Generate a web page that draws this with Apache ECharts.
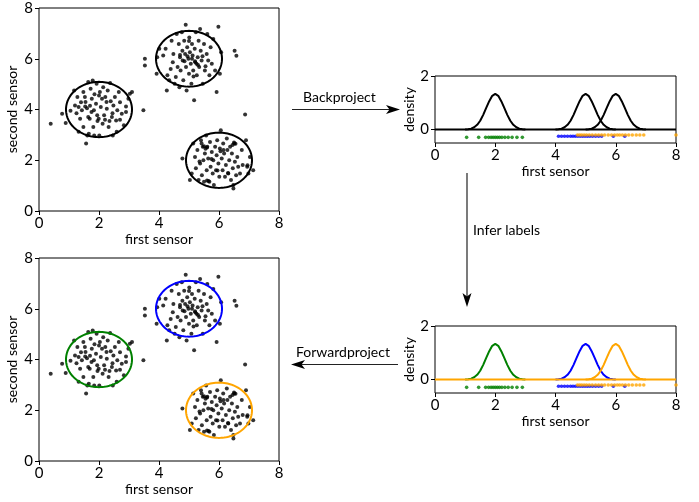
<!DOCTYPE html>
<html>
<head>
<meta charset="utf-8">
<script src="https://cdn.jsdelivr.net/npm/echarts@6/dist/echarts.min.js"></script>
<style>
html,body{margin:0;padding:0;background:#fff;}
#chart{width:699px;height:502px;}
</style>
</head>
<body>
<div id="chart"></div>
<script>
// ---------- data ----------
const xTickValues = [0, 2, 4, 6, 8];
const scatterTickValues = [0, 2, 4, 6, 8];
const densityTickValues = [0, 2];

const clusterA = [[0.39,3.44],[0.77,3.83],[0.89,3.47],[1.17,4.75],[1.2,4.16],[1.28,4.49],[1.32,4.1],[1.37,3.64],[1.4,4.29],[1.43,3.97],[1.48,4.69],[1.53,4.49],[1.54,4.12],[1.57,2.66],[1.61,2.98],[1.64,3.7],[1.66,3.04],[1.69,3.64],[1.72,4.82],[1.76,4.42],[1.79,5.14],[1.83,3.97],[1.84,2.98],[1.9,4.23],[1.92,5.01],[1.94,3.77],[1.99,3.64],[2.01,2.98],[2.03,4.69],[2.06,4.1],[2.1,4.42],[2.12,3.44],[2.17,3.77],[2.21,4.49],[2.26,4.03],[2.29,4.75],[2.32,3.31],[2.37,5.04],[2.39,4.33],[2.43,3.7],[2.46,2.98],[2.48,4.16],[2.53,4.49],[2.57,3.57],[2.61,3.97],[2.66,4.69],[2.7,4.29],[2.76,3.83],[2.83,3.38],[2.9,4.12],[2.98,4.42],[3.03,4.62],[3.1,4.69],[3.48,3.97],[1.64,5.08],[1.81,3.31],[2.14,4.88],[1.48,3.31],[1.32,3.12],[2.59,3.12],[1.25,3.85],[1.6,4.05],[1.7,4.15],[1.75,3.9],[2.2,3.6],[2.35,3.55],[1.95,3.55],[1.55,4.3],[2.45,3.85],[1.85,4.6],[2.0,4.55],[2.25,4.3],[1.05,3.95],[2.7,3.6],[2.9,3.9]];

const clusterB = [[3.53,6.0],[3.53,5.73],[3.92,5.41],[3.94,6.06],[4.01,6.39],[4.14,6.13],[4.22,6.39],[4.26,4.75],[4.28,5.35],[4.34,5.15],[4.39,5.6],[4.42,6.71],[4.46,5.86],[4.48,6.19],[4.52,5.01],[4.56,5.28],[4.59,6.98],[4.62,5.67],[4.66,6.58],[4.68,4.88],[4.7,6.06],[4.72,5.54],[4.76,7.04],[4.78,6.32],[4.79,5.93],[4.81,5.15],[4.84,6.71],[4.87,6.19],[4.89,7.34],[4.9,5.67],[4.92,4.75],[4.94,6.45],[4.98,6.0],[5.0,5.41],[5.01,6.84],[5.03,6.26],[5.06,5.8],[5.08,5.01],[5.1,6.58],[5.12,6.13],[5.14,5.54],[5.17,4.36],[5.19,6.39],[5.21,5.86],[5.23,7.04],[5.26,5.35],[5.29,6.06],[5.32,6.71],[5.34,5.67],[5.37,7.17],[5.39,6.32],[5.42,5.93],[5.46,5.01],[5.5,6.58],[5.53,5.54],[5.59,6.19],[5.61,6.98],[5.64,5.93],[5.68,5.35],[5.72,6.45],[5.76,5.8],[5.81,6.78],[5.87,5.54],[5.92,4.69],[5.98,7.26],[6.03,5.41],[6.07,6.26],[6.52,6.32],[6.58,6.12],[5.2,5.9],[5.25,5.8],[5.3,5.75],[4.95,6.1],[5.1,6.0],[4.7,6.15],[5.45,6.1],[5.55,5.7],[4.85,5.9],[5.15,5.3],[5.0,6.7]];

const clusterC = [[4.78,2.07],[5.03,1.22],[5.09,1.48],[5.14,2.66],[5.2,2.13],[5.23,1.68],[5.28,2.4],[5.32,1.22],[5.37,1.87],[5.4,2.79],[5.43,1.41],[5.46,2.53],[5.48,2.0],[5.5,1.15],[5.53,2.27],[5.57,2.98],[5.59,1.61],[5.61,2.53],[5.64,2.07],[5.68,1.15],[5.7,2.72],[5.72,1.74],[5.76,2.33],[5.79,1.48],[5.81,2.0],[5.83,1.02],[5.87,2.53],[5.9,1.61],[5.92,2.2],[5.94,2.79],[5.98,1.87],[6.01,1.35],[6.03,2.46],[6.06,3.18],[6.09,2.07],[6.12,1.61],[6.14,2.66],[6.17,2.27],[6.2,1.35],[6.23,1.81],[6.26,2.86],[6.28,2.4],[6.31,1.48],[6.34,2.0],[6.37,2.53],[6.4,1.22],[6.43,2.27],[6.46,1.68],[6.48,1.02],[6.51,2.66],[6.53,1.94],[6.57,1.41],[6.61,2.13],[6.64,1.74],[6.7,1.48],[6.76,2.4],[6.79,1.81],[6.87,3.8],[6.9,2.79],[6.94,1.74],[6.98,1.48],[7.03,2.13],[7.14,1.61],[6.48,0.89],[5.42,2.66],[5.55,2.45],[5.6,2.5],[5.5,2.55],[5.75,2.05],[6.05,2.35],[6.15,2.4],[6.45,2.6],[6.5,2.7],[6.55,2.65],[5.35,1.95],[5.95,1.6],[6.3,1.5],[5.65,1.18],[5.6,1.2],[6.95,1.8]];

const ellipseCenters = [[2, 4], [5, 6], [6, 2]];
const ellipseRadii = [[1.1, 1.09], [1.1, 1.1], [1.1, 1.09]];

// density profile (offset from each peak, height)
const densityOffsets = [-1.0,-0.9,-0.8,-0.7,-0.6,-0.5,-0.4,-0.3,-0.2,-0.1,0,0.1,0.2,0.3,0.4,0.5,0.6,0.7,0.8,0.9,1.0];
const densityHeights = [0.005,0.015,0.037,0.088,0.18,0.33,0.55,0.81,1.06,1.26,1.33,1.26,1.06,0.81,0.55,0.33,0.18,0.088,0.037,0.015,0.005];
const densityCenters = [2, 5, 6];
const baselineX = [0, 8];

const rugGreenX = [1.05,1.45,1.68,1.78,1.86,1.93,2.0,2.07,2.14,2.22,2.32,2.43,2.56,2.72,2.9];
const rugBlueX = [4.1,4.2,4.3,4.4,4.5,4.58,4.66,4.74,4.82,4.9,4.98,5.06,5.14,5.23,5.33,5.43,5.53,5.92,6.3];
const rugOrangeX = [4.73,4.8,4.87,4.95,5.03,5.12,5.22,5.33,5.43,5.53,5.63,5.75,5.86,5.96,6.05,6.13,6.22,6.32,6.43,6.55,6.68,6.8,6.93,8.0];
const rugLevels = [-0.29, -0.25, -0.2];

const clusterColors = ['#008000', '#0000ff', '#ffa500'];

// ---------- helpers ----------
const FONT = 'Lato';
function curveData(center) {
  return densityOffsets.map((o, i) => [center + o, densityHeights[i]]);
}
function rugData(xs, level) { return xs.map(x => [x, level]); }

function xAxis(gridIndex) {
  return {
    type: 'value', gridIndex, min: 0, max: 8, interval: 2,
    name: 'first sensor', nameLocation: 'middle', nameGap: 21,
    nameTextStyle: { fontFamily: FONT, fontSize: 14, color: '#000' },
    axisLine: { show: false, onZero: false },
    axisTick: { show: true, inside: false, length: 4, lineStyle: { color: '#000', width: 1 } },
    axisLabel: { fontFamily: FONT, fontSize: 15, color: '#000', margin: 5 },
    splitLine: { show: false }
  };
}
function scatterY(gridIndex) {
  return {
    type: 'value', gridIndex, min: 0, max: 8, interval: 2,
    name: 'second sensor', nameLocation: 'middle', nameGap: 20,
    nameTextStyle: { fontFamily: FONT, fontSize: 14, color: '#000' },
    axisLine: { show: false, onZero: false },
    axisTick: { show: true, length: 4, lineStyle: { color: '#000', width: 1 } },
    axisLabel: { fontFamily: FONT, fontSize: 15, color: '#000', margin: 6 },
    splitLine: { show: false }
  };
}
function densityY(gridIndex) {
  return {
    type: 'value', gridIndex, min: -0.5, max: 2,
    name: 'density', nameLocation: 'middle', nameGap: 15,
    nameTextStyle: { fontFamily: FONT, fontSize: 14, color: '#000' },
    axisLine: { show: false, onZero: false },
    axisTick: { show: true, length: 4, customValues: densityTickValues, lineStyle: { color: '#000', width: 1 } },
    axisLabel: { fontFamily: FONT, fontSize: 15, color: '#000', margin: 6, customValues: densityTickValues },
    splitLine: { show: false }
  };
}

function ellipseSeries(xi, yi, colors) {
  return {
    type: 'custom', xAxisIndex: xi, yAxisIndex: yi, silent: true, z: 3,
    data: ellipseCenters.map((c, i) => [c[0], c[1], i]),
    renderItem: function (params, api) {
      const idx = api.value(2);
      const c = ellipseCenters[idx], r = ellipseRadii[idx];
      const pts = [];
      for (let k = 0; k <= 120; k++) {
        const t = k / 120 * Math.PI * 2;
        pts.push(api.coord([c[0] + r[0] * Math.cos(t), c[1] + r[1] * Math.sin(t)]));
      }
      return {
        type: 'polyline',
        shape: { points: pts },
        style: { fill: null, stroke: colors[idx], lineWidth: 2 }
      };
    }
  };
}

function pointSeries(xi, yi) {
  return {
    type: 'scatter', xAxisIndex: xi, yAxisIndex: yi, z: 2,
    symbol: 'circle', symbolSize: 4,
    itemStyle: { color: '#000' },
    data: clusterA.concat(clusterB, clusterC)
  };
}

function lineSeries(xi, yi, data, color, z) {
  return {
    type: 'line', xAxisIndex: xi, yAxisIndex: yi, showSymbol: false, symbol: 'none',
    lineStyle: { color, width: 2 }, data, z: z || 3
  };
}
function baselineData() { return baselineX.map(x => [x, 0]); }
function rugSeries(xi, yi, xs, level, color) {
  return {
    type: 'scatter', xAxisIndex: xi, yAxisIndex: yi, symbol: 'circle', symbolSize: 3.6,
    itemStyle: { color }, data: rugData(xs, level), z: 2
  };
}

const gridStyle = { show: true, borderColor: '#000', borderWidth: 1, backgroundColor: 'transparent', containLabel: false };

const option = {
  animation: false,
  backgroundColor: '#fff',
  grid: [
    Object.assign({ left: 39, top: 8, width: 240, height: 203 }, gridStyle),
    Object.assign({ left: 39, top: 258, width: 240, height: 203 }, gridStyle),
    Object.assign({ left: 435, top: 76, width: 241, height: 67 }, gridStyle),
    Object.assign({ left: 435, top: 326, width: 241, height: 67 }, gridStyle)
  ],
  xAxis: [xAxis(0), xAxis(1), xAxis(2), xAxis(3)],
  yAxis: [scatterY(0), scatterY(1), densityY(2), densityY(3)],
  series: [
    pointSeries(0, 0),
    ellipseSeries(0, 0, ['#000', '#000', '#000']),
    pointSeries(1, 1),
    ellipseSeries(1, 1, clusterColors),

    rugSeries(2, 2, rugGreenX, rugLevels[0], clusterColors[0]),
    rugSeries(2, 2, rugBlueX, rugLevels[1], clusterColors[1]),
    rugSeries(2, 2, rugOrangeX, rugLevels[2], clusterColors[2]),
    lineSeries(2, 2, baselineData(), '#000', 3),
    lineSeries(2, 2, curveData(densityCenters[0]), '#000'),
    lineSeries(2, 2, curveData(densityCenters[1]), '#000'),
    lineSeries(2, 2, curveData(densityCenters[2]), '#000'),

    rugSeries(3, 3, rugGreenX, rugLevels[0], clusterColors[0]),
    rugSeries(3, 3, rugBlueX, rugLevels[1], clusterColors[1]),
    rugSeries(3, 3, rugOrangeX, rugLevels[2], clusterColors[2]),
    lineSeries(3, 3, curveData(densityCenters[0]), clusterColors[0]),
    lineSeries(3, 3, curveData(densityCenters[1]), clusterColors[1]),
    lineSeries(3, 3, curveData(densityCenters[2]), clusterColors[2]),
    lineSeries(3, 3, baselineData(), clusterColors[2], 4)
  ],
  graphic: [
    { type: 'text', left: 303, top: 90, style: { text: 'Backproject', font: '14px ' + FONT, fill: '#000' } },
    { type: 'line', shape: { x1: 292, y1: 109.5, x2: 392, y2: 109.5 }, style: { stroke: '#222', lineWidth: 1.2 } },
    { type: 'polygon', shape: { points: [[400, 109.5], [386, 105], [389.5, 109.5], [386, 114]] }, style: { fill: '#000' } },

    { type: 'text', left: 473, top: 223, style: { text: 'Infer labels', font: '14px ' + FONT, fill: '#000' } },
    { type: 'line', shape: { x1: 467, y1: 173, x2: 467, y2: 300 }, style: { stroke: '#222', lineWidth: 1.2 } },
    { type: 'polygon', shape: { points: [[467, 307], [462.5, 293], [467, 296.5], [471.5, 293]] }, style: { fill: '#000' } },

    { type: 'text', left: 296, top: 345, style: { text: 'Forwardproject', font: '14px ' + FONT, fill: '#000' } },
    { type: 'line', shape: { x1: 300, y1: 364.5, x2: 398, y2: 364.5 }, style: { stroke: '#222', lineWidth: 1.2 } },
    { type: 'polygon', shape: { points: [[291, 364.5], [305, 360], [301.5, 364.5], [305, 369]] }, style: { fill: '#000' } }
  ]
};

const chart = echarts.init(document.getElementById('chart'), null, { renderer: 'canvas' });
chart.setOption(option);
</script>
</body>
</html>
